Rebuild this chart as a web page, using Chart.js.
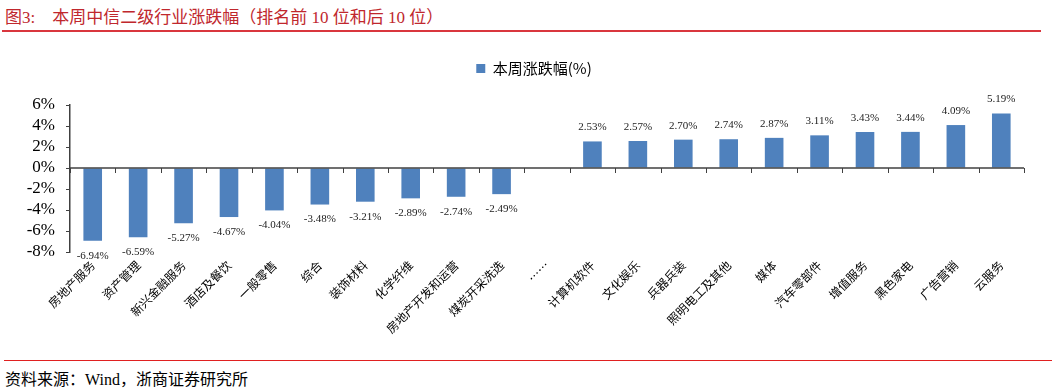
<!DOCTYPE html>
<html>
<head>
<meta charset="utf-8">
<script src="https://cdn.jsdelivr.net/npm/chart.js@4"></script>
<style>
  body { margin: 0; width: 1057px; height: 390px; background: #fff; position: relative; overflow: hidden; }
  #title { position: absolute; left: 5px; top: 3px; font: 17px "Liberation Serif", "Noto Sans CJK SC", serif; color: #c0272d; white-space: pre; }
  #topLine { position: absolute; left: 2px; top: 30px; width: 1039px; height: 2px; background: #d9363e; }
  #wrap { position: absolute; left: 0; top: 36px; width: 1057px; height: 320px; }
  #bottomLine { position: absolute; left: 4px; top: 360px; width: 1048px; height: 1px; background: #e02020; }
  #source { position: absolute; left: 5px; top: 366px; font: 16px "Liberation Serif", "Noto Sans CJK SC", serif; color: #000; }
</style>
</head>
<body>
<div id="title">图3:    本周中信二级行业涨跌幅（排名前 10 位和后 10 位）</div>
<div id="topLine"></div>
<div id="wrap"><canvas id="chart" width="1057" height="320"></canvas></div>
<div id="bottomLine"></div>
<div id="source">资料来源：Wind，浙商证券研究所</div>
<script>
const categories = ["房地产服务", "资产管理", "新兴金融服务", "酒店及餐饮", "一般零售", "综合", "装饰材料", "化学纤维", "房地产开发和运营", "煤炭开采洗选", "……", "计算机软件", "文化娱乐", "兵器兵装", "照明电工及其他", "媒体", "汽车零部件", "增值服务", "黑色家电", "广告营销", "云服务"];
const weeklyChange = [-6.94, -6.59, -5.27, -4.67, -4.04, -3.48, -3.21, -2.89, -2.74, -2.49, null, 2.53, 2.57, 2.70, 2.74, 2.87, 3.11, 3.43, 3.44, 4.09, 5.19];
const seriesName = "本周涨跌幅(%)";
const yMin = -8, yMax = 6, yStep = 2;

// zero line with small ticks between categories + value labels
const barExtras = {
  id: "barExtras",
  afterDatasetsDraw(chart) {
    const { ctx, chartArea, scales } = chart;
    const x = scales.x, y = scales.y;
    const y0 = y.getPixelForValue(0);
    const w = x.getPixelForValue(1) - x.getPixelForValue(0);
    ctx.save();
    ctx.strokeStyle = "#404040";
    ctx.lineWidth = 1.5;
    ctx.beginPath();
    ctx.moveTo(chartArea.left, y0);
    ctx.lineTo(chartArea.right, y0);
    ctx.stroke();
    ctx.lineWidth = 1;
    ctx.beginPath();
    for (let i = 0; i <= categories.length; i++) {
      const px = Math.round(x.getPixelForValue(0) - w / 2 + i * w) + 0.5;
      ctx.moveTo(px, y0);
      ctx.lineTo(px, y0 + 5);
    }
    ctx.stroke();

    ctx.fillStyle = "#222";
    ctx.font = '11px "Liberation Serif", serif';
    ctx.textAlign = "center";
    ctx.textBaseline = "middle";
    chart.getDatasetMeta(0).data.forEach((bar, i) => {
      const v = weeklyChange[i];
      if (v === null) return;
      ctx.fillText(v.toFixed(2) + "%", bar.x, v < 0 ? bar.y + 15 : bar.y - 14);
    });
    ctx.restore();
  }
};

new Chart(document.getElementById("chart"), {
  type: "bar",
  data: {
    labels: categories,
    datasets: [{
      label: seriesName,
      data: weeklyChange,
      backgroundColor: "#4f81bd",
      borderWidth: 0,
      barPercentage: 0.41,
      categoryPercentage: 1
    }]
  },
  options: {
    responsive: false,
    animation: false,
    maintainAspectRatio: false,
    layout: { padding: { top: 15, right: 0, left: 11, bottom: 0 } },
    plugins: {
      legend: {
        display: true,
        position: "top",
        labels: {
          boxWidth: 9,
          boxHeight: 9,
          padding: 10,
          color: "#000",
          font: { family: '"Noto Sans CJK SC", sans-serif', size: 15 }
        }
      },
      title: {
        display: true,
        text: "",
        weight: 500,
        padding: { top: 0, bottom: 7 },
        font: { size: 10 }
      },
      tooltip: { enabled: false }
    },
    scales: {
      x: {
        afterFit(scale) { scale.height = 104; },
        grid: { display: false, drawTicks: false },
        border: { display: false },
        ticks: {
          autoSkip: false,
          minRotation: 45,
          maxRotation: 45,
          padding: 6,
          color: "#000",
          font: { family: '"Noto Sans CJK SC", sans-serif', size: 12 }
        }
      },
      y: {
        min: yMin,
        max: yMax,
        afterFit(scale) { scale.width = 59; },
        grid: { drawOnChartArea: false, drawTicks: true, tickLength: 4, color: "#404040" },
        border: { display: true, color: "#404040", width: 1.5 },
        ticks: {
          autoSkip: false,
          stepSize: yStep,
          padding: 11,
          color: "#000",
          font: { family: '"Liberation Serif", serif', size: 17 },
          callback: v => v + "%"
        }
      },
      // empty right-hand spacer so the plot ends at the same place as the original
      ySpacer: {
        type: "linear",
        position: "right",
        min: yMin,
        max: yMax,
        afterFit(scale) { scale.width = 33; },
        grid: { display: false },
        border: { display: false },
        ticks: { display: false }
      }
    }
  },
  plugins: [barExtras]
});
</script>
</body>
</html>
